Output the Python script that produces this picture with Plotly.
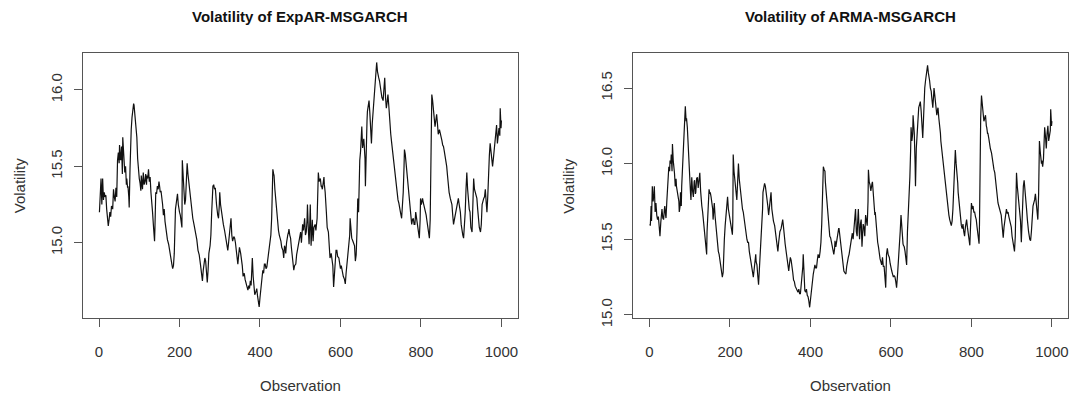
import plotly.graph_objects as go

# ---- Data (Observation index, volatility) ----
expar_obs = [1,3,5,7,9,11,13,15,17,19,21,23,25,27,29,31,34,36,38,40,42,44,46,48,50,51,53,54,56,58,59,61,62,64,66,68,69,71,72,74,75,77,79,80,82,84,86,87,89,90,92,94,96,98,100,102,104,105,107,108,110,112,114,116,118,119,121,123,125,127,129,131,133,135,137,138,139,141,143,145,147,149,151,152,154,156,158,160,162,164,166,167,170,173,175,177,179,181,183,185,187,189,190,192,194,195,197,198,200,202,204,206,207,209,211,213,215,217,219,221,223,225,228,231,233,236,240,243,246,249,252,255,257,259,261,263,265,267,269,271,273,276,278,280,282,283,285,287,289,290,292,295,297,299,300,302,304,306,309,312,316,318,320,322,324,326,328,330,332,335,337,339,341,343,345,347,349,352,354,356,358,361,363,365,368,370,372,374,376,378,380,381,383,385,387,390,392,394,396,398,400,402,404,407,409,411,413,415,417,419,421,423,425,427,429,431,432,434,435,437,440,442,444,446,448,450,452,454,457,459,461,463,464,466,467,469,471,472,474,476,478,480,482,484,486,489,491,493,495,497,499,501,503,504,506,508,510,511,513,515,517,518,520,522,524,525,527,528,530,532,534,537,539,542,543,545,547,550,552,553,555,557,559,560,562,565,567,570,572,574,577,579,581,583,585,587,589,591,593,596,598,600,602,605,607,610,612,614,616,618,621,623,624,626,628,631,633,635,637,639,641,643,645,646,648,650,651,653,655,656,658,659,661,662,664,666,667,669,671,673,674,676,677,679,681,683,684,686,687,689,690,692,693,695,697,699,701,703,706,708,710,712,714,716,718,720,721,723,725,727,729,731,733,735,737,739,741,743,745,747,749,752,754,756,758,759,761,763,766,768,770,772,774,776,777,779,781,783,785,787,789,791,793,795,796,798,799,801,804,806,807,809,811,813,814,816,817,819,821,823,824,826,827,829,831,833,835,837,839,841,843,846,848,850,852,854,856,858,860,862,864,866,868,870,873,875,877,879,881,883,885,887,889,891,893,895,898,900,902,904,906,908,910,912,914,916,918,920,922,924,927,929,931,933,935,937,939,941,943,945,948,950,952,954,956,958,960,962,964,966,968,970,972,974,976,978,980,982,984,986,988,990,992,994,996,997,999,1000]
expar_vol = [15.20,15.28,15.42,15.25,15.42,15.28,15.33,15.30,15.31,15.22,15.18,15.11,15.15,15.20,15.17,15.24,15.22,15.35,15.30,15.27,15.36,15.30,15.54,15.59,15.52,15.64,15.55,15.54,15.63,15.45,15.69,15.58,15.56,15.46,15.50,15.38,15.42,15.36,15.37,15.30,15.23,15.48,15.70,15.74,15.82,15.88,15.91,15.90,15.84,15.80,15.75,15.69,15.55,15.46,15.42,15.39,15.34,15.44,15.38,15.35,15.46,15.38,15.40,15.45,15.38,15.44,15.42,15.48,15.40,15.43,15.33,15.28,15.20,15.12,15.05,15.01,15.10,15.33,15.32,15.37,15.35,15.40,15.36,15.33,15.34,15.30,15.25,15.18,15.22,15.14,15.10,15.07,15.02,14.99,14.95,14.93,14.89,14.86,14.83,14.85,14.93,15.20,15.22,15.26,15.30,15.32,15.25,15.22,15.20,15.18,15.12,15.10,15.54,15.45,15.37,15.25,15.28,15.40,15.52,15.45,15.40,15.32,15.25,15.20,15.16,15.12,15.07,15.02,14.95,14.92,14.86,14.80,14.75,14.82,14.86,14.90,14.88,14.80,14.74,14.82,14.93,14.98,15.05,15.20,15.33,15.37,15.38,15.35,15.36,15.31,15.25,15.18,15.16,15.25,15.33,15.25,15.20,15.15,15.12,15.08,15.01,14.98,14.95,15.00,15.07,15.12,15.16,15.05,15.01,15.04,15.03,15.00,14.95,14.90,14.86,14.92,14.97,14.93,14.90,14.85,14.78,14.80,14.76,14.73,14.71,14.69,14.72,14.70,14.75,14.72,14.82,14.90,14.78,14.69,14.66,14.68,14.70,14.65,14.62,14.58,14.64,14.69,14.74,14.82,14.80,14.86,14.86,14.83,14.84,14.88,14.90,14.95,14.99,15.05,15.16,15.40,15.48,15.45,15.44,15.35,15.25,15.18,15.12,15.08,15.05,15.03,15.01,14.97,14.95,14.90,14.98,14.96,14.93,15.00,15.03,15.05,15.07,15.09,15.05,15.03,14.97,14.90,14.86,14.82,14.85,14.86,14.92,14.95,15.00,15.03,15.06,15.07,15.00,15.10,15.12,15.08,15.14,15.16,15.05,15.07,15.15,15.25,15.10,14.99,15.15,15.25,14.98,15.07,15.15,15.01,15.10,15.12,15.08,15.16,15.30,15.46,15.40,15.42,15.37,15.37,15.35,15.40,15.43,15.38,15.33,15.20,15.10,15.07,14.93,14.90,14.93,14.88,14.85,14.71,14.80,14.93,14.95,14.95,14.91,14.90,14.86,14.83,14.85,14.80,14.78,14.76,14.73,14.80,14.86,14.92,14.99,15.05,15.16,15.05,15.03,15.01,15.00,14.98,14.88,14.92,15.07,15.29,15.20,15.37,15.54,15.60,15.67,15.76,15.62,15.65,15.68,15.64,15.55,15.37,15.71,15.80,15.86,15.90,15.93,15.85,15.80,15.72,15.65,15.78,15.86,15.95,15.99,16.05,16.10,16.15,16.18,16.12,16.10,16.08,16.06,16.02,15.97,15.95,15.93,16.00,16.08,15.95,15.88,15.92,15.97,15.90,15.84,15.78,15.71,15.66,15.61,15.55,15.50,15.45,15.42,15.38,15.33,15.28,15.26,15.22,15.20,15.16,15.22,15.33,15.50,15.61,15.58,15.52,15.42,15.35,15.29,15.22,15.18,15.14,15.12,15.15,15.16,15.12,15.12,15.20,15.16,15.13,15.10,15.06,15.03,15.15,15.29,15.25,15.29,15.26,15.25,15.22,15.21,15.18,15.16,15.12,15.10,15.06,15.03,15.15,15.33,15.80,15.97,15.93,15.88,15.80,15.76,15.80,15.84,15.78,15.71,15.74,15.72,15.69,15.67,15.64,15.63,15.60,15.57,15.53,15.50,15.44,15.37,15.33,15.29,15.27,15.25,15.18,15.12,15.15,15.18,15.22,15.25,15.26,15.29,15.25,15.20,15.12,15.07,15.05,15.03,15.10,15.20,15.35,15.46,15.35,15.25,15.22,15.20,15.10,15.07,15.25,15.42,15.35,15.33,15.30,15.29,15.22,15.16,15.10,15.07,15.12,15.25,15.28,15.29,15.30,15.35,15.27,15.20,15.30,15.50,15.57,15.65,15.58,15.55,15.50,15.55,15.62,15.68,15.74,15.77,15.65,15.72,15.75,15.70,15.88,15.75,15.80]

arma_obs = [1,2,4,5,7,9,11,12,14,16,18,20,22,23,25,26,28,30,31,33,35,37,38,40,41,43,44,46,48,50,51,53,54,56,57,59,60,62,64,66,67,69,71,73,74,76,77,79,80,82,84,86,88,89,91,92,94,96,97,99,100,102,103,105,107,109,111,112,114,115,117,119,121,122,124,125,127,128,130,132,134,135,137,138,140,142,143,145,147,148,150,151,153,155,157,158,160,161,163,165,167,168,170,171,173,174,176,178,180,181,183,184,186,188,190,191,193,194,196,198,200,202,204,206,207,208,210,212,214,217,219,221,223,225,227,229,231,233,235,237,240,242,244,246,248,250,252,254,256,258,260,262,264,265,267,269,271,273,275,277,279,281,282,284,286,288,289,291,292,294,296,298,300,302,304,306,308,311,313,315,317,319,321,322,324,327,329,331,333,334,336,337,340,342,344,346,348,350,352,354,356,358,360,362,365,367,369,371,373,375,377,379,381,382,384,386,388,390,392,394,396,398,400,402,404,407,409,411,413,415,417,419,421,422,424,426,428,429,431,432,434,436,437,439,441,443,445,446,448,450,452,454,456,458,460,461,463,464,466,468,470,471,473,475,477,479,481,483,485,488,490,492,494,496,498,500,502,504,506,508,510,512,514,516,517,519,521,522,524,526,528,529,531,533,535,537,539,541,543,544,546,548,550,551,553,554,556,558,560,561,563,564,566,567,569,571,573,575,577,579,581,583,585,587,589,591,593,595,596,598,600,602,604,606,608,610,612,614,616,618,620,622,623,625,627,628,630,631,633,635,637,639,641,643,645,647,649,650,652,654,655,657,658,660,661,663,665,666,668,669,671,673,675,676,678,679,681,682,684,686,688,690,691,693,694,696,698,700,701,703,704,706,707,709,711,713,714,716,717,719,721,723,724,726,727,729,731,733,734,736,737,739,740,742,744,746,747,749,750,752,754,755,757,758,760,762,764,766,767,769,771,773,775,777,779,781,783,785,788,790,792,794,796,798,800,802,804,806,808,810,812,814,817,819,820,821,823,825,827,828,830,831,833,835,837,838,840,841,843,845,847,850,852,854,856,858,860,862,864,866,868,870,872,874,876,878,879,881,883,885,887,889,891,893,895,897,899,901,903,905,907,909,910,912,914,916,918,920,922,924,925,927,929,931,933,934,936,937,939,940,942,945,947,949,951,953,955,957,959,961,963,965,967,969,971,972,974,975,977,979,981,982,984,986,988,990,992,994,996,997,999,1000]
arma_vol = [15.60,15.59,15.72,15.62,15.85,15.75,15.80,15.85,15.68,15.74,15.66,15.63,15.65,15.59,15.56,15.52,15.61,15.65,15.70,15.64,15.63,15.70,15.72,15.66,15.64,15.75,15.81,15.93,15.98,15.95,16.02,16.00,16.06,15.95,16.13,16.02,16.00,15.94,15.85,15.90,15.85,15.82,15.78,15.75,15.68,15.72,15.81,15.72,15.85,15.98,16.15,16.28,16.35,16.38,16.28,16.30,16.24,16.10,16.02,15.93,15.89,15.80,15.76,15.91,15.82,15.78,15.88,15.89,15.80,15.81,15.90,15.91,15.84,15.87,15.90,15.94,15.82,15.77,15.72,15.68,15.62,15.59,15.55,15.50,15.44,15.40,15.55,15.72,15.80,15.83,15.80,15.81,15.78,15.74,15.70,15.63,15.68,15.74,15.65,15.59,15.52,15.48,15.45,15.42,15.40,15.38,15.35,15.31,15.28,15.25,15.28,15.38,15.50,15.59,15.67,15.71,15.76,15.78,15.70,15.66,15.63,15.59,15.56,15.53,15.62,16.06,15.95,15.88,15.80,15.76,15.88,16.00,15.90,15.85,15.78,15.72,15.70,15.68,15.63,15.59,15.54,15.50,15.48,15.48,15.42,15.38,15.36,15.33,15.29,15.25,15.30,15.38,15.40,15.35,15.33,15.26,15.20,15.30,15.40,15.45,15.55,15.70,15.81,15.84,15.87,15.85,15.83,15.80,15.79,15.72,15.66,15.70,15.76,15.81,15.70,15.64,15.62,15.59,15.55,15.53,15.46,15.42,15.48,15.51,15.55,15.57,15.60,15.63,15.58,15.51,15.50,15.47,15.42,15.38,15.33,15.29,15.34,15.38,15.36,15.33,15.28,15.23,15.22,15.19,15.17,15.16,15.15,15.17,15.14,15.14,15.20,15.23,15.32,15.40,15.25,15.16,15.15,15.17,15.13,15.12,15.09,15.05,15.10,15.16,15.20,15.27,15.30,15.33,15.31,15.31,15.36,15.40,15.38,15.38,15.42,15.48,15.60,15.72,15.90,15.98,15.96,15.95,15.88,15.81,15.73,15.66,15.60,15.55,15.52,15.51,15.48,15.46,15.43,15.40,15.44,15.49,15.45,15.47,15.52,15.55,15.57,15.57,15.52,15.51,15.44,15.38,15.33,15.29,15.28,15.27,15.32,15.36,15.38,15.40,15.44,15.48,15.53,15.54,15.50,15.59,15.62,15.70,15.55,15.52,15.60,15.70,15.55,15.50,15.60,15.63,15.45,15.55,15.60,15.58,15.52,15.66,15.60,15.59,15.75,15.96,15.88,15.86,15.82,15.85,15.87,15.88,15.80,15.70,15.66,15.68,15.60,15.55,15.50,15.48,15.45,15.40,15.37,15.35,15.33,15.38,15.32,15.32,15.25,15.18,15.40,15.44,15.40,15.38,15.38,15.34,15.30,15.29,15.27,15.25,15.26,15.25,15.22,15.18,15.25,15.33,15.40,15.46,15.55,15.66,15.55,15.48,15.47,15.46,15.45,15.42,15.38,15.33,15.55,15.65,15.72,15.91,16.10,16.24,16.15,16.20,16.32,16.25,16.20,16.00,15.85,16.10,16.20,16.24,16.30,16.37,16.39,16.41,16.35,16.28,16.22,16.17,16.30,16.39,16.50,16.55,16.58,16.62,16.65,16.60,16.56,16.55,16.50,16.48,16.45,16.40,16.37,16.45,16.50,16.45,16.40,16.35,16.32,16.36,16.37,16.30,16.26,16.20,16.15,16.10,16.06,16.02,15.98,15.92,15.87,15.84,15.81,15.76,15.72,15.70,15.66,15.63,15.61,15.60,15.59,15.62,15.70,15.78,15.97,16.05,16.09,16.00,15.95,15.87,15.81,15.75,15.68,15.63,15.59,15.57,15.60,15.55,15.52,15.58,15.63,15.58,15.55,15.50,15.46,15.60,15.74,15.70,15.72,15.68,15.68,15.65,15.63,15.58,15.51,15.47,15.60,15.96,16.30,16.45,16.38,16.34,16.30,16.28,16.30,16.32,16.25,16.24,16.20,16.20,16.17,16.13,16.10,16.07,16.03,15.98,15.96,15.94,15.88,15.83,15.78,15.74,15.72,15.70,15.68,15.66,15.60,15.55,15.51,15.58,15.63,15.67,15.70,15.67,15.68,15.65,15.62,15.60,15.58,15.52,15.48,15.45,15.42,15.52,15.70,15.94,15.85,15.78,15.72,15.70,15.62,15.48,15.55,15.80,15.85,15.89,15.80,15.76,15.72,15.70,15.63,15.59,15.55,15.50,15.49,15.55,15.66,15.72,15.74,15.76,15.80,15.75,15.70,15.63,15.80,16.15,16.08,16.05,16.00,16.02,15.98,16.03,16.12,16.24,16.18,16.10,16.20,16.25,16.15,16.20,16.22,16.36,16.25,16.28]

titles = ["Volatility of ExpAR-MSGARCH", "Volatility of ARMA-MSGARCH"]
x_ticks = [0, 200, 400, 600, 800, 1000]
y_ticks_left = [15.0, 15.5, 16.0]
y_ticks_right = [15.0, 15.5, 16.0, 16.5]
x_label = "Observation"
y_label = "Volatility"

W, H = 1075, 403
FONT = "Liberation Sans, Arial, sans-serif"
AXC = "#555555"

def px_x(p):
    return p / W

def px_y(p):
    return 1 - p / H

box_top, box_bot = 54, 325
left_box = (83, 518)
right_box = (634, 1069)

fig = go.Figure()
fig.add_trace(go.Scatter(x=expar_obs, y=expar_vol, mode="lines",
                         line=dict(color="#111111", width=1.2), xaxis="x", yaxis="y",
                         showlegend=False, hoverinfo="skip"))
fig.add_trace(go.Scatter(x=arma_obs, y=arma_vol, mode="lines",
                         line=dict(color="#111111", width=1.2), xaxis="x2", yaxis="y2",
                         showlegend=False, hoverinfo="skip"))

common_axis = dict(showline=True, mirror=True, linecolor=AXC, linewidth=1,
                   ticks="outside", ticklen=8, tickwidth=1, tickcolor=AXC,
                   showgrid=False, zeroline=False,
                   tickfont=dict(family=FONT, size=15, color="#333333"))

xd1 = [px_x(left_box[0]), px_x(left_box[1])]
xd2 = [px_x(right_box[0]), px_x(right_box[1])]
yd = [px_y(box_bot), px_y(box_top)]

fig.update_layout(
    width=W, height=H,
    margin=dict(l=0, r=0, t=0, b=0),
    paper_bgcolor="white", plot_bgcolor="white",
    xaxis=dict(domain=xd1, range=[-40, 1040], tickvals=x_ticks,
               ticktext=[str(v) for v in x_ticks], anchor="y",
               ticklabelstandoff=12, **common_axis),
    yaxis=dict(domain=yd, range=[14.509, 16.243], tickvals=y_ticks_left,
               ticktext=[f"{v:.1f}" for v in y_ticks_left], anchor="x",
               tickangle=-90, ticklabelstandoff=6, **common_axis),
    xaxis2=dict(domain=xd2, range=[-40, 1040], tickvals=x_ticks,
                ticktext=[str(v) for v in x_ticks], anchor="y2",
                ticklabelstandoff=12, **common_axis),
    yaxis2=dict(domain=yd, range=[14.981, 16.733], tickvals=y_ticks_right,
                ticktext=[f"{v:.1f}" for v in y_ticks_right], anchor="x2",
                tickangle=-90, ticklabelstandoff=6, **common_axis),
)

annos = []
for (bx0, bx1), title, ylab_x in [(left_box, titles[0], 19), (right_box, titles[1], 569)]:
    cx = (bx0 + bx1) / 2
    annos.append(dict(text=f"<b>{title}</b>", x=px_x(cx), y=px_y(17), xref="paper", yref="paper",
                      xanchor="center", yanchor="middle", showarrow=False,
                      font=dict(family=FONT, size=15, color="#111111")))
    annos.append(dict(text=x_label, x=px_x(cx), y=px_y(394), xref="paper", yref="paper",
                      xanchor="center", yanchor="middle", showarrow=False,
                      font=dict(family=FONT, size=15, color="#333333")))
    annos.append(dict(text=y_label, x=px_x(ylab_x), y=px_y((box_top + box_bot) / 2),
                      xref="paper", yref="paper", xanchor="center", yanchor="middle",
                      textangle=-90, showarrow=False,
                      font=dict(family=FONT, size=15, color="#333333")))
fig.update_layout(annotations=annos)

fig.write_html("out.html",
               config={"displayModeBar": False},
               post_script="document.body.style.margin='0';document.body.style.overflow='hidden';")
